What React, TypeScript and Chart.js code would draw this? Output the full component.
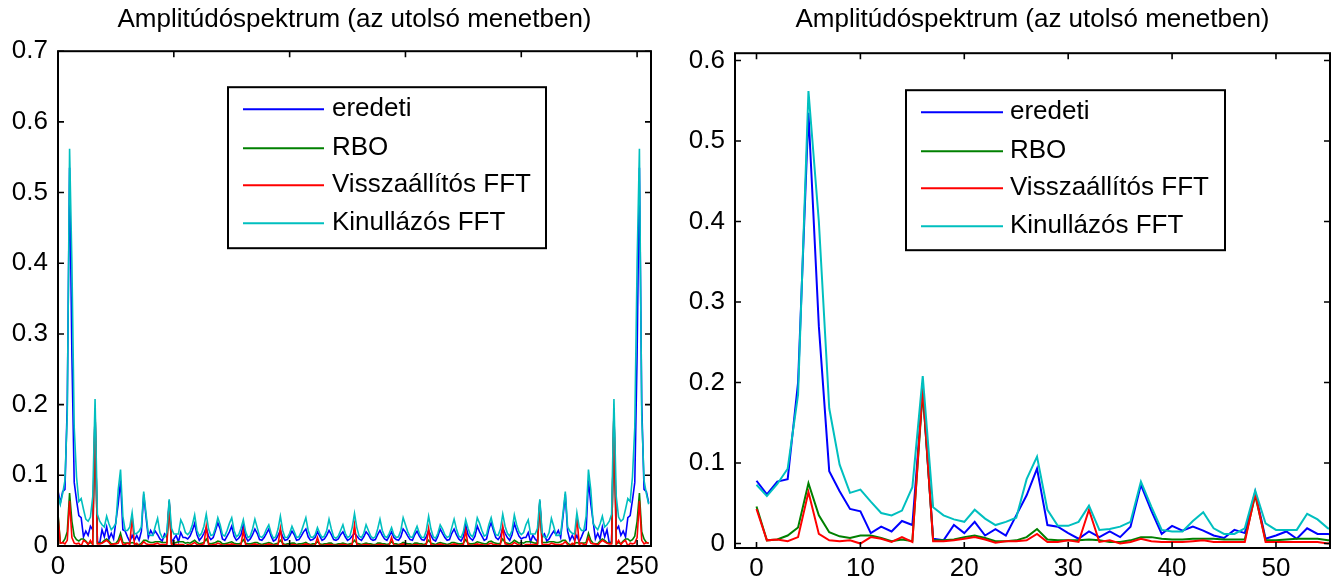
import React, { useEffect, useRef } from 'react';
import { Chart, registerables } from 'chart.js';

Chart.register(...registerables);

// ---------------- data ----------------
const binIndex: number[] = Array.from({ length: 256 }, (_, k) => k);

const eredeti: number[] = [
  0.078, 0.061, 0.077, 0.080, 0.200, 0.535, 0.270, 0.090, 0.065, 0.043, 0.040, 0.013, 0.021, 0.015, 0.028, 0.023,
  0.190, 0.006, 0.004, 0.023, 0.013, 0.027, 0.010, 0.018, 0.010, 0.035, 0.060, 0.093, 0.023, 0.021, 0.013, 0.006,
  0.015, 0.008, 0.015, 0.008, 0.021, 0.073, 0.041, 0.012, 0.022, 0.016, 0.021, 0.016, 0.010, 0.007, 0.017, 0.013,
  0.064, 0.006, 0.010, 0.015, 0.006, 0.019, 0.012, 0.012, 0.010, 0.014, 0.022, 0.032, 0.016, 0.008, 0.012, 0.018,
  0.026, 0.014, 0.009, 0.012, 0.022, 0.033, 0.024, 0.010, 0.008, 0.014, 0.020, 0.028, 0.014, 0.008, 0.011, 0.016,
  0.030, 0.013, 0.007, 0.010, 0.016, 0.024, 0.018, 0.009, 0.008, 0.012, 0.018, 0.024, 0.014, 0.007, 0.009, 0.015,
  0.022, 0.013, 0.008, 0.009, 0.014, 0.021, 0.016, 0.008, 0.009, 0.014, 0.020, 0.024, 0.013, 0.008, 0.009, 0.012,
  0.020, 0.014, 0.008, 0.010, 0.015, 0.022, 0.016, 0.009, 0.008, 0.010, 0.016, 0.020, 0.013, 0.008, 0.010, 0.014,
  0.018,
  0.014, 0.010, 0.008, 0.013, 0.020, 0.016, 0.010, 0.008, 0.009, 0.016, 0.022, 0.015, 0.010, 0.008, 0.014, 0.020,
  0.012, 0.009, 0.008, 0.013, 0.024, 0.020, 0.014, 0.009, 0.008, 0.016, 0.021, 0.014, 0.009, 0.008, 0.013, 0.022,
  0.015, 0.009, 0.007, 0.014, 0.024, 0.018, 0.012, 0.008, 0.009, 0.018, 0.024, 0.016, 0.010, 0.007, 0.013, 0.030,
  0.016, 0.011, 0.008, 0.014, 0.028, 0.020, 0.014, 0.008, 0.010, 0.024, 0.033, 0.022, 0.012, 0.009, 0.014, 0.026,
  0.018, 0.012, 0.008, 0.016, 0.032, 0.022, 0.014, 0.010, 0.012, 0.012, 0.019, 0.006, 0.015, 0.010, 0.006, 0.064,
  0.013, 0.017, 0.007, 0.010, 0.016, 0.021, 0.016, 0.022, 0.012, 0.041, 0.073, 0.021, 0.008, 0.015, 0.008, 0.015,
  0.006, 0.013, 0.021, 0.023, 0.093, 0.060, 0.035, 0.010, 0.018, 0.010, 0.027, 0.013, 0.023, 0.004, 0.006, 0.190,
  0.023, 0.028, 0.015, 0.021, 0.013, 0.040, 0.043, 0.065, 0.090, 0.270, 0.535, 0.200, 0.080, 0.077, 0.061,
];

const rbo: number[] = [
  0.046, 0.004, 0.005, 0.010, 0.020, 0.075, 0.035, 0.014, 0.009, 0.007, 0.010, 0.010, 0.007, 0.003, 0.005, 0.003,
  0.190, 0.004, 0.004, 0.005, 0.008, 0.010, 0.007, 0.003, 0.003, 0.004, 0.008, 0.018, 0.005, 0.004, 0.004, 0.004,
  0.005, 0.004, 0.002, 0.002, 0.004, 0.008, 0.008, 0.006, 0.005, 0.005, 0.006, 0.006, 0.006, 0.005, 0.005, 0.005,
  0.060, 0.004, 0.004, 0.005, 0.006, 0.006, 0.006, 0.004, 0.005, 0.004, 0.006, 0.008, 0.005, 0.003, 0.004, 0.005,
  0.010, 0.004, 0.003, 0.004, 0.005, 0.007, 0.006, 0.003, 0.003, 0.004, 0.005, 0.006, 0.004, 0.003, 0.003, 0.004,
  0.009, 0.004, 0.003, 0.003, 0.004, 0.005, 0.005, 0.003, 0.002, 0.003, 0.004, 0.005, 0.004, 0.002, 0.003, 0.004,
  0.008, 0.004, 0.002, 0.003, 0.003, 0.004, 0.004, 0.002, 0.003, 0.003, 0.004, 0.005, 0.003, 0.002, 0.003, 0.003,
  0.006, 0.003, 0.002, 0.003, 0.003, 0.004, 0.004, 0.002, 0.002, 0.003, 0.003, 0.004, 0.003, 0.002, 0.003, 0.004,
  0.008,
  0.004, 0.003, 0.002, 0.003, 0.004, 0.003, 0.003, 0.002, 0.002, 0.004, 0.004, 0.003, 0.003, 0.002, 0.003, 0.006,
  0.003, 0.003, 0.002, 0.003, 0.005, 0.004, 0.003, 0.003, 0.002, 0.004, 0.004, 0.003, 0.003, 0.002, 0.004, 0.008,
  0.004, 0.003, 0.002, 0.004, 0.005, 0.004, 0.003, 0.002, 0.003, 0.005, 0.005, 0.004, 0.003, 0.003, 0.004, 0.009,
  0.004, 0.003, 0.003, 0.004, 0.006, 0.005, 0.004, 0.003, 0.003, 0.006, 0.007, 0.005, 0.004, 0.003, 0.004, 0.010,
  0.005, 0.004, 0.003, 0.005, 0.008, 0.006, 0.004, 0.005, 0.004, 0.006, 0.006, 0.006, 0.005, 0.004, 0.004, 0.060,
  0.005, 0.005, 0.005, 0.006, 0.006, 0.006, 0.005, 0.005, 0.006, 0.008, 0.008, 0.004, 0.002, 0.002, 0.004, 0.005,
  0.004, 0.004, 0.004, 0.005, 0.018, 0.008, 0.004, 0.003, 0.003, 0.007, 0.010, 0.008, 0.005, 0.004, 0.004, 0.190,
  0.003, 0.005, 0.003, 0.007, 0.010, 0.010, 0.007, 0.009, 0.014, 0.035, 0.075, 0.020, 0.010, 0.005, 0.004,
];

const visszaallitos: number[] = [
  0.043, 0.004, 0.005, 0.003, 0.008, 0.064, 0.012, 0.004, 0.003, 0.004, 0.000, 0.008, 0.006, 0.002, 0.008, 0.002,
  0.195, 0.003, 0.003, 0.004, 0.006, 0.008, 0.005, 0.001, 0.003, 0.003, 0.004, 0.012, 0.002, 0.002, 0.004, 0.002,
  0.042, 0.002, 0.004, 0.000, 0.002, 0.006, 0.003, 0.002, 0.002, 0.002, 0.003, 0.004, 0.002, 0.002, 0.002, 0.002,
  0.062, 0.002, 0.002, 0.002, 0.002, 0.002, 0.002, 0.000, 0.002, 0.001, 0.003, 0.005, 0.002, 0.001, 0.002, 0.003,
  0.028, 0.002, 0.001, 0.002, 0.002, 0.004, 0.003, 0.001, 0.001, 0.002, 0.002, 0.003, 0.002, 0.001, 0.001, 0.002,
  0.022, 0.002, 0.001, 0.001, 0.002, 0.003, 0.002, 0.001, 0.001, 0.001, 0.002, 0.003, 0.002, 0.001, 0.001, 0.002,
  0.025, 0.002, 0.001, 0.001, 0.001, 0.002, 0.002, 0.001, 0.001, 0.001, 0.002, 0.003, 0.002, 0.001, 0.001, 0.001,
  0.012, 0.001, 0.001, 0.001, 0.002, 0.002, 0.002, 0.001, 0.001, 0.001, 0.002, 0.002, 0.002, 0.001, 0.001, 0.002,
  0.030,
  0.002, 0.001, 0.001, 0.002, 0.002, 0.002, 0.001, 0.001, 0.001, 0.002, 0.002, 0.002, 0.001, 0.001, 0.001, 0.012,
  0.001, 0.001, 0.001, 0.002, 0.003, 0.002, 0.001, 0.001, 0.001, 0.002, 0.002, 0.001, 0.001, 0.001, 0.002, 0.025,
  0.002, 0.001, 0.001, 0.002, 0.003, 0.002, 0.001, 0.001, 0.001, 0.002, 0.003, 0.002, 0.001, 0.001, 0.002, 0.022,
  0.002, 0.001, 0.001, 0.002, 0.003, 0.002, 0.002, 0.001, 0.001, 0.003, 0.004, 0.002, 0.002, 0.001, 0.002, 0.028,
  0.003, 0.002, 0.001, 0.002, 0.005, 0.003, 0.001, 0.002, 0.000, 0.002, 0.002, 0.002, 0.002, 0.002, 0.002, 0.062,
  0.002, 0.002, 0.002, 0.002, 0.004, 0.003, 0.002, 0.002, 0.002, 0.003, 0.006, 0.002, 0.000, 0.004, 0.002, 0.042,
  0.002, 0.004, 0.002, 0.002, 0.012, 0.004, 0.003, 0.003, 0.001, 0.005, 0.008, 0.006, 0.004, 0.003, 0.003, 0.195,
  0.002, 0.008, 0.002, 0.006, 0.008, 0.000, 0.004, 0.003, 0.004, 0.012, 0.064, 0.008, 0.003, 0.005, 0.004,
];

const kinullazos: number[] = [
  0.073, 0.059, 0.074, 0.093, 0.185, 0.562, 0.400, 0.168, 0.098, 0.063, 0.067, 0.052, 0.038, 0.035, 0.041, 0.070,
  0.208, 0.045, 0.035, 0.030, 0.027, 0.042, 0.031, 0.023, 0.027, 0.032, 0.080, 0.108, 0.042, 0.022, 0.022, 0.027,
  0.047, 0.017, 0.018, 0.021, 0.027, 0.077, 0.046, 0.017, 0.015, 0.015, 0.028, 0.039, 0.019, 0.012, 0.012, 0.019,
  0.066, 0.025, 0.017, 0.017, 0.017, 0.037, 0.030, 0.019, 0.016, 0.020, 0.030, 0.044, 0.022, 0.014, 0.018, 0.028,
  0.045, 0.024, 0.015, 0.016, 0.026, 0.040, 0.030, 0.016, 0.014, 0.022, 0.032, 0.040, 0.022, 0.013, 0.016, 0.025,
  0.037, 0.020, 0.012, 0.014, 0.024, 0.038, 0.026, 0.014, 0.012, 0.016, 0.024, 0.030, 0.018, 0.011, 0.013, 0.024,
  0.042, 0.022, 0.012, 0.012, 0.018, 0.028, 0.020, 0.012, 0.013, 0.020, 0.030, 0.040, 0.022, 0.013, 0.012, 0.016,
  0.026, 0.018, 0.012, 0.014, 0.022, 0.038, 0.024, 0.013, 0.011, 0.014, 0.022, 0.030, 0.018, 0.012, 0.014, 0.026,
  0.046,
  0.026, 0.014, 0.012, 0.018, 0.030, 0.022, 0.014, 0.011, 0.013, 0.024, 0.038, 0.022, 0.014, 0.012, 0.018, 0.026,
  0.016, 0.012, 0.013, 0.022, 0.040, 0.030, 0.020, 0.013, 0.012, 0.020, 0.028, 0.018, 0.012, 0.012, 0.022, 0.042,
  0.024, 0.013, 0.011, 0.018, 0.030, 0.024, 0.016, 0.012, 0.014, 0.026, 0.038, 0.024, 0.014, 0.012, 0.020, 0.037,
  0.025, 0.016, 0.013, 0.022, 0.040, 0.032, 0.022, 0.014, 0.016, 0.030, 0.040, 0.026, 0.016, 0.015, 0.024, 0.045,
  0.028, 0.018, 0.014, 0.022, 0.044, 0.030, 0.020, 0.016, 0.019, 0.030, 0.037, 0.017, 0.017, 0.017, 0.025, 0.066,
  0.019, 0.012, 0.012, 0.019, 0.039, 0.028, 0.015, 0.015, 0.017, 0.046, 0.077, 0.027, 0.021, 0.018, 0.017, 0.047,
  0.027, 0.022, 0.022, 0.042, 0.108, 0.080, 0.032, 0.027, 0.023, 0.031, 0.042, 0.027, 0.030, 0.035, 0.045, 0.208,
  0.070, 0.041, 0.035, 0.038, 0.052, 0.067, 0.063, 0.098, 0.168, 0.400, 0.562, 0.185, 0.093, 0.074, 0.059,
];

const seriesLabels: string[] = ['eredeti', 'RBO', 'Visszaállítós FFT', 'Kinullázós FFT'];
const seriesColors: string[] = ['#0000ff', '#008000', '#ff0000', '#00bfbf'];
const chartTitle = 'Amplitúdóspektrum (az utolsó menetben)';

const leftXTicks: number[] = [0, 50, 100, 150, 200, 250];
const leftYTicks: number[] = [0, 0.1, 0.2, 0.3, 0.4, 0.5, 0.6, 0.7];
const rightXTicks: number[] = [0, 10, 20, 30, 40, 50];
const rightYTicks: number[] = [0, 0.1, 0.2, 0.3, 0.4, 0.5, 0.6];

// ---------------- layout ----------------
const FONT = "'Liberation Sans', Arial, Helvetica, sans-serif";
const FONT_SIZE = 26;
const TICK_LEN = 6;

type LegendLayout = { dx: number; dy: number; w: number; h: number; rows: number[]; s0: number; s1: number; tx: number };
type Panel = {
  left: number; width: number; height: number;
  xMin: number; xMax: number; yMin: number; yMax: number;
  xTicks: number[]; yTicks: number[];
  padRight: number; yAxisWidth: number; xAxisHeight: number;
  titlePadTop: number; titlePadBottom: number;
  lineWidth: number;
  legend: LegendLayout;
};

const leftPanel: Panel = {
  left: 0, width: 670, height: 582,
  xMin: 0, xMax: 256, yMin: 0, yMax: 0.7,
  xTicks: leftXTicks, yTicks: leftYTicks,
  padRight: 19, yAxisWidth: 58, xAxisHeight: 36,
  titlePadTop: 4, titlePadBottom: 16,
  lineWidth: 1.6,
  legend: { dx: 170, dy: 36, w: 318, h: 161, rows: [22, 61, 98, 136], s0: 15, s1: 96, tx: 104 },
};

const rightPanel: Panel = {
  left: 670, width: 663, height: 582,
  xMin: -2.07, xMax: 55.2, yMin: -0.0055, yMax: 0.609,
  xTicks: rightXTicks, yTicks: rightYTicks,
  padRight: 3, yAxisWidth: 65, xAxisHeight: 34,
  titlePadTop: 4, titlePadBottom: 18,
  lineWidth: 2,
  legend: { dx: 171, dy: 37, w: 319, h: 160, rows: [22, 61, 98, 136], s0: 15, s1: 97, tx: 104 },
};

function makeFramePlugin(p: Panel) {
  return {
    id: 'matlabFrame',
    afterDatasetsDraw(chart: any) {
      const { ctx, chartArea: a } = chart;
      const xs = chart.scales.x;
      const ys = chart.scales.y;
      ctx.save();
      ctx.strokeStyle = '#000';
      ctx.lineWidth = 1.6;
      ctx.beginPath();
      for (const v of p.xTicks) {
        const px = xs.getPixelForValue(v);
        ctx.moveTo(px, a.bottom);
        ctx.lineTo(px, a.bottom - TICK_LEN);
        ctx.moveTo(px, a.top);
        ctx.lineTo(px, a.top + TICK_LEN);
      }
      for (const v of p.yTicks) {
        const py = ys.getPixelForValue(v);
        ctx.moveTo(a.left, py);
        ctx.lineTo(a.left + TICK_LEN, py);
        ctx.moveTo(a.right, py);
        ctx.lineTo(a.right - TICK_LEN, py);
      }
      ctx.stroke();
      ctx.lineWidth = 2;
      ctx.strokeRect(a.left, a.top, a.right - a.left, a.bottom - a.top);

      // legend box (MATLAB style, inside the axes)
      const L = p.legend;
      const bx = a.left + L.dx;
      const by = a.top + L.dy;
      ctx.fillStyle = '#fff';
      ctx.fillRect(bx, by, L.w, L.h);
      ctx.strokeStyle = '#000';
      ctx.lineWidth = 2;
      ctx.strokeRect(bx, by, L.w, L.h);
      ctx.font = `${FONT_SIZE}px ${FONT}`;
      ctx.textBaseline = 'middle';
      ctx.textAlign = 'left';
      chart.data.datasets.forEach((ds: any, i: number) => {
        const ry = by + L.rows[i];
        ctx.strokeStyle = ds.borderColor;
        ctx.lineWidth = 2;
        ctx.beginPath();
        ctx.moveTo(bx + L.s0, ry);
        ctx.lineTo(bx + L.s1, ry);
        ctx.stroke();
        ctx.fillStyle = '#000';
        ctx.fillText(ds.label, bx + L.tx, ry);
      });
      ctx.restore();
    },
  };
}

function buildConfig(p: Panel): any {
  const values = [eredeti, rbo, visszaallitos, kinullazos];
  return {
    type: 'line',
    data: {
      labels: binIndex,
      datasets: values.map((arr, i) => ({
        label: seriesLabels[i],
        data: arr,
        borderColor: seriesColors[i],
        backgroundColor: seriesColors[i],
        borderWidth: p.lineWidth,
        pointRadius: 0,
        pointHoverRadius: 0,
        tension: 0,
        fill: false,
        order: 4 - i,
      })),
    },
    options: {
      responsive: false,
      animation: false,
      events: [],
      layout: { padding: { left: 0, right: p.padRight, top: 0, bottom: 0 } },
      plugins: {
        legend: { display: false },
        tooltip: { enabled: false },
        title: {
          display: true,
          text: chartTitle,
          fullSize: false,
          color: '#000',
          font: { family: FONT, size: FONT_SIZE, weight: 'normal' },
          padding: { top: p.titlePadTop, bottom: p.titlePadBottom },
        },
      },
      scales: {
        x: {
          type: 'linear',
          min: p.xMin,
          max: p.xMax,
          grid: { display: false, drawTicks: false },
          border: { display: false },
          afterBuildTicks: (s: any) => { s.ticks = p.xTicks.map((v) => ({ value: v })); },
          afterFit: (s: any) => { s.height = p.xAxisHeight; },
          ticks: {
            autoSkip: false,
            maxRotation: 0,
            minRotation: 0,
            padding: 5,
            color: '#000',
            font: { family: FONT, size: FONT_SIZE },
            callback: (v: number) => String(v),
          },
        },
        y: {
          type: 'linear',
          min: p.yMin,
          max: p.yMax,
          grid: { display: false, drawTicks: false },
          border: { display: false },
          afterBuildTicks: (s: any) => { s.ticks = p.yTicks.map((v) => ({ value: v })); },
          afterFit: (s: any) => { s.width = p.yAxisWidth; },
          ticks: {
            padding: 10,
            color: '#000',
            font: { family: FONT, size: FONT_SIZE },
            callback: (v: number) => String(v),
          },
        },
      },
    },
    plugins: [makeFramePlugin(p)],
  };
}

function SpectrumPanel({ panel }: { panel: Panel }) {
  const ref = useRef<HTMLCanvasElement | null>(null);
  useEffect(() => {
    if (!ref.current) return;
    const chart = new Chart(ref.current, buildConfig(panel));
    return () => chart.destroy();
  }, [panel]);
  return (
    <canvas
      ref={ref}
      width={panel.width}
      height={panel.height}
      style={{ position: 'absolute', left: panel.left, top: 0, width: panel.width, height: panel.height, display: 'block' }}
    />
  );
}

export default function App() {
  return (
    <div style={{ position: 'fixed', left: 0, top: 0, width: 1333, height: 582, background: '#fff', overflow: 'hidden' }}>
      <SpectrumPanel panel={leftPanel} />
      <SpectrumPanel panel={rightPanel} />
    </div>
  );
}
